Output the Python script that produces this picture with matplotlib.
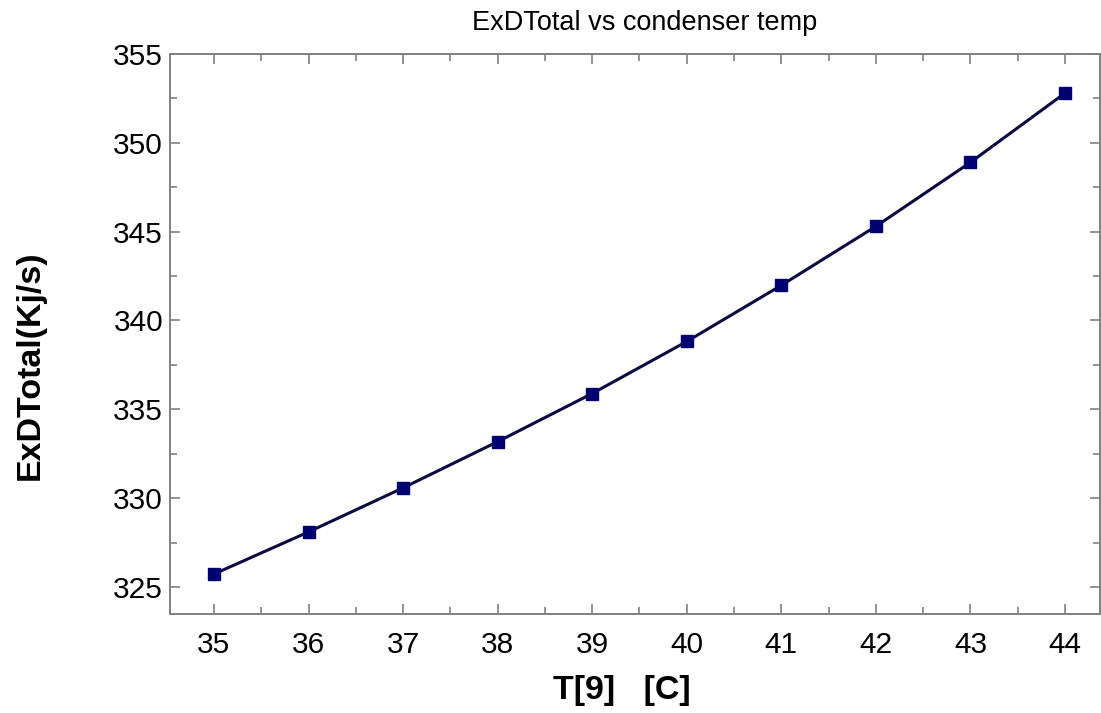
import matplotlib
matplotlib.use("Agg")
import matplotlib.pyplot as plt
from matplotlib.ticker import MultipleLocator

# condenser temperature vs total exergy destruction
temp_c = [35, 36, 37, 38, 39, 40, 41, 42, 43, 44]
exd_total = [325.73, 328.10, 330.58, 333.18, 335.89, 338.82, 341.98, 345.30, 348.90, 352.80]

plt.rcParams["font.family"] = ["Liberation Sans", "DejaVu Sans"]

fig = plt.figure(figsize=(11.01, 7.13), dpi=100)
ax = fig.add_axes([170 / 1101, 1 - 614 / 713, 930 / 1101, 560 / 713])

ax.plot(temp_c, exd_total, color="#0a0a40", lw=2.2, marker="s", ms=9,
        mfc="#000070", mec="#000070", zorder=3)

ax.set_xlim(34.535, 44.37)
ax.set_ylim(323.48, 355)
ax.xaxis.set_major_locator(MultipleLocator(1))
ax.xaxis.set_minor_locator(MultipleLocator(0.5))
ax.yaxis.set_major_locator(MultipleLocator(5))
ax.yaxis.set_minor_locator(MultipleLocator(2.5))

for s in ax.spines.values():
    s.set_color("#808080")
    s.set_linewidth(1.4)

ax.tick_params(which="both", direction="in", top=True, right=True, color="#808080", width=1.2)
ax.tick_params(which="major", length=7, labelsize=21.5)
ax.tick_params(axis="x", which="major", pad=12)
ax.tick_params(axis="y", which="major", pad=5)
ax.tick_params(which="minor", length=5)

fig.text(645 / 1101, 1 - 23 / 713, "ExDTotal vs condenser temp", ha="center", va="center", fontsize=19.5)
fig.text(622 / 1101, 1 - 690 / 713, "T[9]   [C]", ha="center", va="center", fontsize=24.5, fontweight="bold")
fig.text(30 / 1101, 1 - 365 / 713, "ExDTotal(Kj/s)", ha="center", va="center", rotation=90,
         fontsize=24.5, fontweight="bold")

fig.savefig("out.png", dpi=100)
